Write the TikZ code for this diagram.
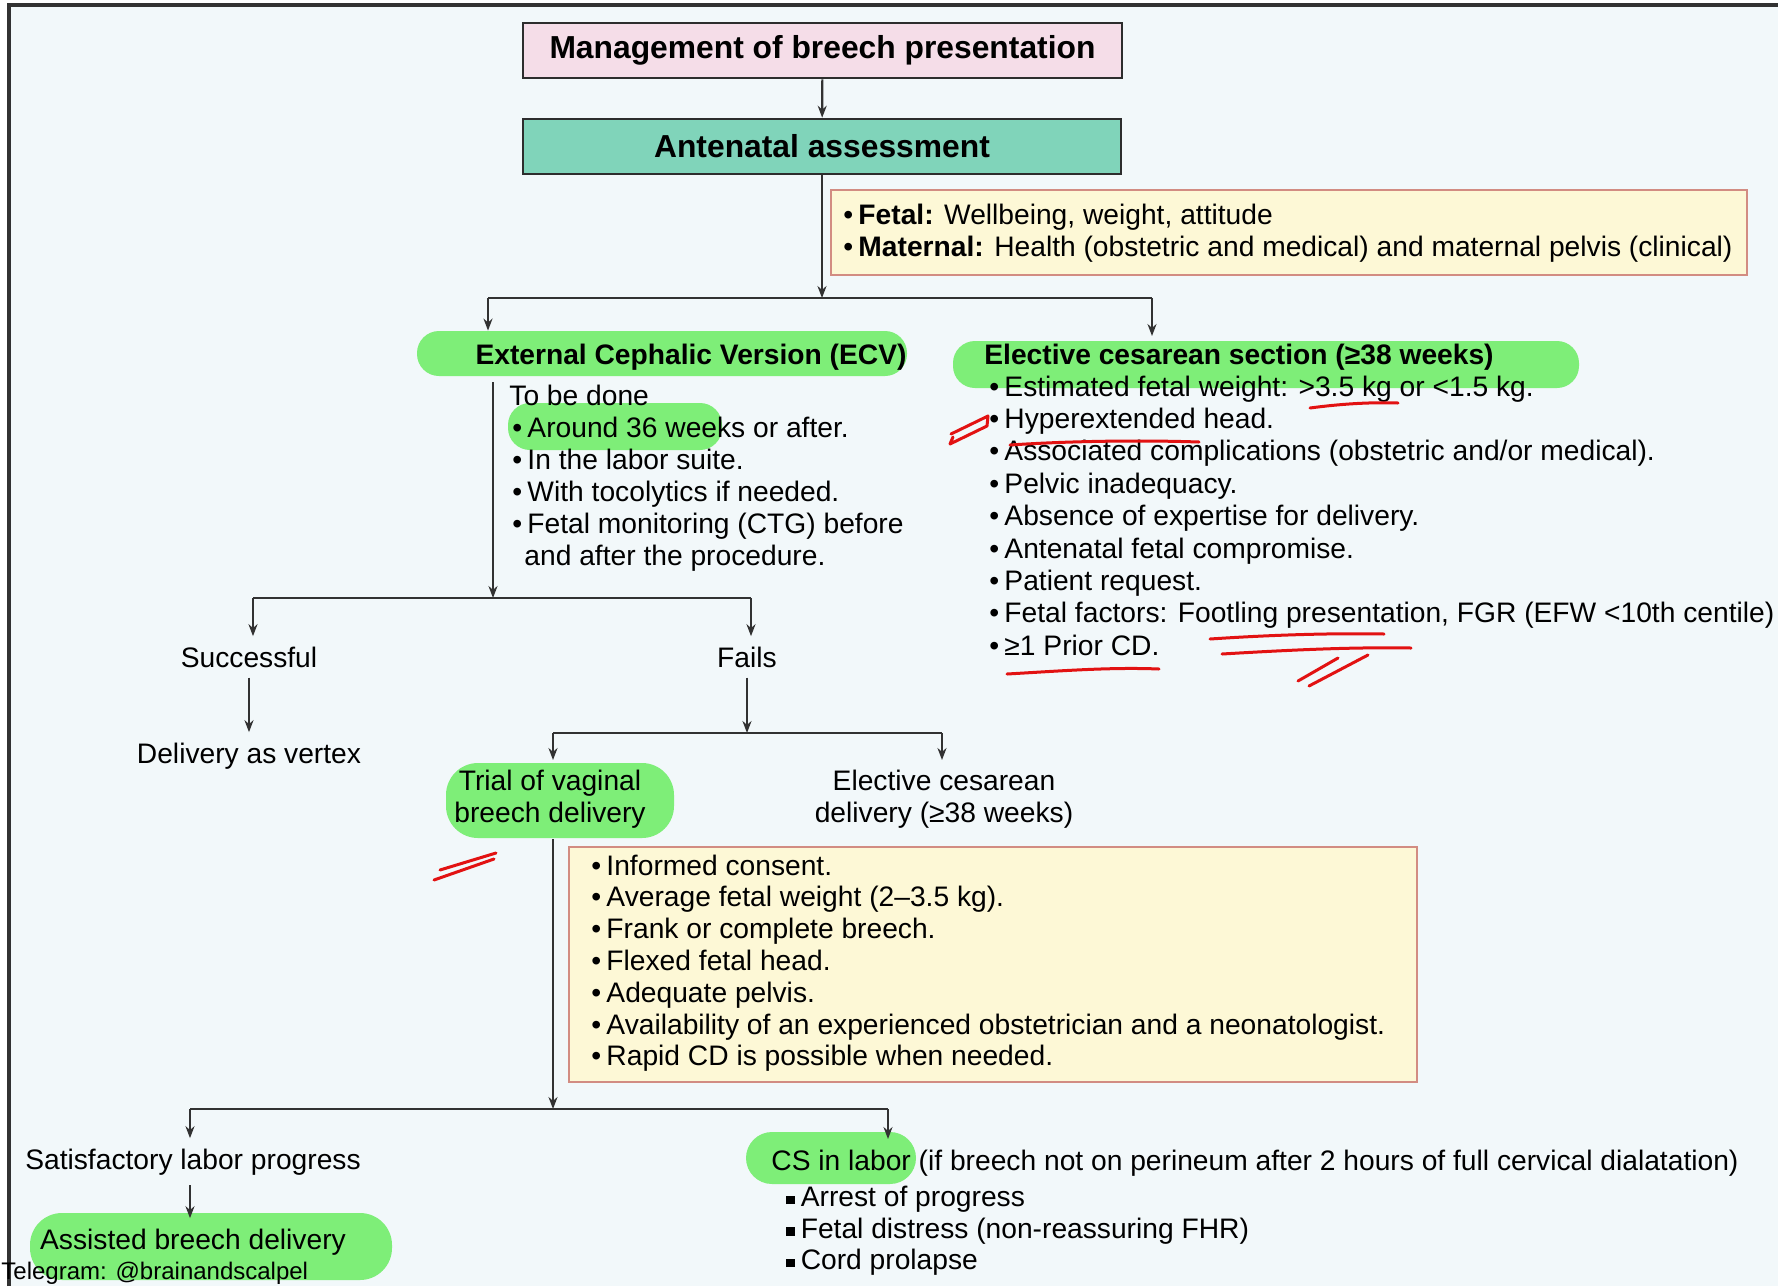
\documentclass[tikz,border=0pt]{standalone}
\usepackage{fontspec}
\setmainfont{Liberation Sans}
\usetikzlibrary{arrows.meta,calc}

\definecolor{bg}{RGB}{242,248,250}
\definecolor{pinkfill}{RGB}{245,221,232}
\definecolor{tealfill}{RGB}{128,212,186}
\definecolor{notefill}{RGB}{253,248,214}
\definecolor{noteedge}{RGB}{210,140,130}
\definecolor{boxedge}{RGB}{45,45,45}
\definecolor{ink}{RGB}{50,50,50}
\definecolor{hl}{RGB}{126,238,120}
\definecolor{pen}{RGB}{226,18,18}

\newcommand\itemdot{•\hspace{2.6pt}}
\newcommand\sqdot{\raisebox{1.2pt}{\rule{4.2pt}{4.2pt}}\hspace{3pt}}

\tikzset{
  flow/.style={draw=ink, line width=1.1pt, -{Stealth[length=6pt,width=4.5pt]}},
  plain/.style={draw=ink, line width=1.1pt},
  body/.style={font=\fontsize{14.1pt}{16pt}\selectfont, inner sep=0pt, anchor=base west},
  lbl/.style={font=\fontsize{14.1pt}{16pt}\selectfont, inner sep=5pt, align=center},
  headbox/.style={draw=boxedge, line width=1.3pt, inner sep=0pt,
    font=\fontsize{15.9pt}{18pt}\selectfont\bfseries},
  notebox/.style={draw=noteedge, fill=notefill, line width=1.1pt, inner sep=0pt},
  hlbox/.style={fill=hl, rounded corners=11pt, inner sep=0pt},
  pen/.style={draw=pen, line width=1.5pt, line cap=round, line join=round},
  frame/.style={draw=ink, line width=1.6pt}
}

\begin{document}
\begin{tikzpicture}[x=0.5pt,y=-0.5pt]
\useasboundingbox (0,0) rectangle (1778,1286);
\fill[white] (0,0) rectangle (1778,1286);
\fill[bg] (9,5) rectangle (1778,1286);
\draw[frame] (9,1286) -- (9,5) -- (1778,5);

% header boxes
\node[headbox, fill=pinkfill, minimum width=299.5pt, minimum height=27.5pt]
  (title) at (822.5,50.5) {Management of breech presentation};
\node[headbox, fill=tealfill, minimum width=299pt, minimum height=27.5pt]
  (ante) at (822,146.5) {Antenatal assessment};

% assessment note
\node[notebox, minimum width=458pt, minimum height=42.5pt] (fetalbox) at (1289,232.5) {};
\node[body] (fetal1) at (843,224) {\itemdot\textbf{Fetal:} Wellbeing, weight, attitude};
\node[body] (fetal2) at (843,256) {\itemdot\textbf{Maternal:} Health (obstetric and medical) and maternal pelvis (clinical)};

% highlighter strokes
\node[hlbox, minimum width=245pt, minimum height=22.5pt] (hlecv) at (662,353.5) {};
\node[hlbox, minimum width=313pt, minimum height=23.5pt] (hlecs) at (1266,364.5) {};
\node[hlbox, minimum width=107pt, minimum height=23.5pt] (hlweeks) at (615,426.5) {};
\node[hlbox, rounded corners=16pt, minimum width=114pt, minimum height=37.5pt] (hltrial) at (560,800.5) {};
\node[hlbox, rounded corners=13pt, minimum width=85pt, minimum height=26pt] (hlcs) at (831,1158) {};
\node[hlbox, rounded corners=16pt, minimum width=181pt, minimum height=33.5pt] (hlassist) at (211,1246.5) {};

% ECV branch
\node[body, anchor=base] (ecvhead) at (691,364) {\bfseries External Cephalic Version (ECV)};
\node[body] (ecv0) at (509,405) {To be done};
\foreach \t [count=\i] in {Around 36 weeks or after., In the labor suite., With tocolytics if needed., Fetal monitoring (CTG) before}
  \node[body] (ecv\i) at (512,{405+32*\i}) {\itemdot\t};
\node[body] (ecv5) at (524,565) {and after the procedure.};

% elective section branch
\node[body] (ecshead) at (984,364) {\bfseries Elective cesarean section (≥38 weeks)};
\foreach \t [count=\i] in {Estimated fetal weight: >3.5 kg or <1.5 kg., Hyperextended head., Associated complications (obstetric and/or medical)., Pelvic inadequacy., Absence of expertise for delivery., Antenatal fetal compromise., Patient request., {Fetal factors: Footling presentation, FGR (EFW <10th centile)}, ≥1 Prior CD.}
  \node[body] (ecs\i) at (989,{396+32.4*(\i-1)}) {\itemdot\t};

% outcomes of ECV
\node[lbl, anchor=base] (succ) at (249,667) {Successful};
\node[lbl, anchor=base] (fails) at (747,667) {Fails};
\node[lbl, anchor=base] (vertex) at (249,763) {Delivery as vertex};
\node[lbl, anchor=north] (trial) at (550,760) {Trial of vaginal\\breech delivery};
\node[lbl, anchor=north] (ecd) at (944,760) {Elective cesarean\\delivery (≥38 weeks)};

% conditions for vaginal breech delivery
\node[notebox, minimum width=424pt, minimum height=117.5pt] (reqbox) at (993,964.5) {};
\foreach \t [count=\i] in {Informed consent., Average fetal weight (2--3.5 kg)., Frank or complete breech., Flexed fetal head., Adequate pelvis., Availability of an experienced obstetrician and a neonatologist., Rapid CD is possible when needed.}
  \node[body] (req\i) at (591,{875+31.8*(\i-1)}) {\itemdot\t};

% labor outcomes
\node[lbl, anchor=base] (satis) at (193,1169) {Satisfactory labor progress};
\node[lbl, anchor=base] (assist) at (193,1249) {Assisted breech delivery};
\node[body] (cs) at (771,1170) {CS in labor (if breech not on perineum after 2 hours of full cervical dialatation)};
\foreach \t [count=\i] in {Arrest of progress, Fetal distress (non-reassuring FHR), Cord prolapse}
  \node[body] (csr\i) at (786,{1175+31.5*\i}) {\sqdot\t};

\node[body, font=\fontsize{12pt}{14pt}\selectfont] (tag) at (1,1279) {Telegram: @brainandscalpel};

% connectors
\coordinate (j1) at (822,298);
\coordinate (j1l) at (488,298);
\coordinate (j1r) at (1152,298);
\coordinate (ecsin) at (1152,336);
\draw[flow] (title) -- (ante);
\draw[flow] (ante) -- (j1);
\draw[plain] (j1l) -- (j1r);
\draw[flow] (j1l) -- (j1l |- hlecv.north);
\draw[flow] (j1r) -- (ecsin);

\coordinate (j2) at (493,598);
\coordinate (j2l) at (253,598);
\coordinate (j2r) at (751,598);
\draw[flow, shorten <=3pt] (hlecv.south -| j2) -- (j2);
\draw[plain] (j2l) -- (j2r);
\draw[flow] (j2l) -- (j2l |- succ.north);
\draw[flow] (j2r) -- (j2r |- fails.north);
\draw[flow] (succ) -- (vertex);

\coordinate (j3) at (747,733);
\coordinate (j3l) at (553,733);
\coordinate (j3r) at (942,733);
\draw[flow] (fails) -- (j3);
\draw[plain] (j3l) -- (j3r);
\draw[flow] (j3l) -- (j3l |- trial.north);
\draw[flow] (j3r) -- (j3r |- ecd.north);

\coordinate (j4) at (553,1109);
\coordinate (j4l) at (190,1109);
\coordinate (j4r) at (888,1109);
\coordinate (csin) at (888,1139);
\draw[flow] (trial.south -| j4) -- (j4);
\draw[plain] (j4l) -- (j4r);
\draw[flow] (j4l) -- (j4l |- satis.north);
\draw[flow] (j4r) -- (csin);
\draw[flow] (satis.south -| j4l) -- (j4l |- assist.north);

% red pen marks
\draw[pen] (1310,408) .. controls (1340,404) and (1370,402) .. (1398,403);
\draw[pen] (951,434) -- (988,416) -- (987,426) -- (950,444) -- (953,437);
\draw[pen] (1010,445) .. controls (1070,441) and (1140,440) .. (1199,442);
\draw[pen] (1007,674) .. controls (1060,671) and (1110,667) .. (1159,669);
\draw[pen] (1210,639) .. controls (1270,635) and (1330,633) .. (1384,634);
\draw[pen] (1222,654) .. controls (1290,650) and (1350,647) .. (1411,648);
\draw[pen] (1298,681) -- (1338,658);
\draw[pen] (1309,686) -- (1368,655);
\draw[pen] (434,880) -- (494,859);
\draw[pen] (440,870) -- (496,853);
\end{tikzpicture}
\end{document}
